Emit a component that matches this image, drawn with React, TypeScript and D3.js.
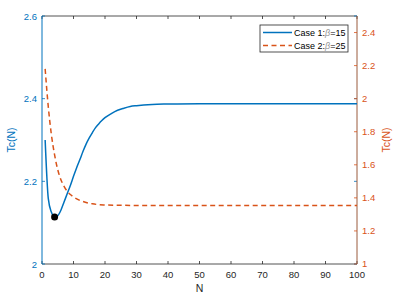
import React from "react";
import * as d3 from "d3";

const case1N = [1, 2, 3, 4, 5, 6, 7, 8, 9, 10, 11, 12, 13, 14, 15, 16, 17, 18, 19, 20, 22, 24, 26, 28, 30, 35, 40, 50, 60, 70, 80, 90, 100];
const case1Tc = [2.3, 2.158, 2.125, 2.114, 2.117, 2.13, 2.15, 2.17, 2.19, 2.212, 2.233, 2.252, 2.272, 2.29, 2.305, 2.318, 2.33, 2.339, 2.347, 2.354, 2.364, 2.372, 2.377, 2.381, 2.383, 2.386, 2.387, 2.388, 2.388, 2.388, 2.388, 2.388, 2.388];
const case2N = [1, 2, 3, 4, 5, 6, 7, 8, 9, 10, 12, 14, 16, 18, 20, 25, 30, 40, 50, 60, 70, 80, 90, 100];
const case2Tc = [2.18, 1.95, 1.78, 1.66, 1.57, 1.51, 1.47, 1.44, 1.42, 1.405, 1.385, 1.372, 1.364, 1.359, 1.357, 1.355, 1.354, 1.354, 1.354, 1.354, 1.354, 1.354, 1.354, 1.354];
const minPoint = { n: 4, tc: 2.114 };
const xTicks = [0, 10, 20, 30, 40, 50, 60, 70, 80, 90, 100];
const leftTicks = [2, 2.2, 2.4, 2.6];
const rightTicks = [1, 1.2, 1.4, 1.6, 1.8, 2, 2.2, 2.4];
const legendLabels = ["Case 1:", "Case 2:"];
const legendBetas = ["15", "25"];

const BLUE = "#0072BD";
const ORANGE = "#D95319";
const GRAY = "#262626";
const FONT = "Liberation Sans, Arial, sans-serif";

export default function App() {
  const W = 401, H = 297;
  const L = 42, R = 357, T = 16, B = 264;
  const x = d3.scaleLinear().domain([0, 100]).range([L, R]);
  const yL = d3.scaleLinear().domain([2, 2.6]).range([B, T]);
  const yR = d3.scaleLinear().domain([1, 2.5]).range([B, T]);

  const line1 = d3.line<number>().x((_, i) => x(case1N[i])).y((d) => yL(d)).curve(d3.curveMonotoneX);
  const line2 = d3.line<number>().x((_, i) => x(case2N[i])).y((d) => yR(d)).curve(d3.curveMonotoneX);
  const tl = 3;

  return (
    <svg width={W} height={H} style={{ position: "absolute", left: 0, top: 0, background: "#fff" }} fontFamily={FONT}>
      <rect x={0} y={0} width={W} height={H} fill="#fff" />
      <defs>
        <clipPath id="plot">
          <rect x={L} y={T} width={R - L} height={B - T} />
        </clipPath>
      </defs>
      {/* x axis bottom/top */}
      <line x1={L} x2={R} y1={B} y2={B} stroke={GRAY} strokeWidth={0.8} />
      <line x1={L} x2={R} y1={T} y2={T} stroke={GRAY} strokeWidth={0.8} />
      {xTicks.map((t) => (
        <g key={"x" + t}>
          <line x1={x(t)} x2={x(t)} y1={B} y2={B - tl} stroke={GRAY} strokeWidth={0.8} />
          <line x1={x(t)} x2={x(t)} y1={T} y2={T + tl} stroke={GRAY} strokeWidth={0.8} />
          <text x={x(t)} y={B + 14} fontSize={9.5} textAnchor="middle" fill={GRAY}>{t}</text>
        </g>
      ))}
      <text x={(L + R) / 2} y={H - 5} fontSize={10.5} textAnchor="middle" fill={GRAY}>N</text>

      {/* left axis */}
      <line x1={L} x2={L} y1={T} y2={B} stroke={BLUE} strokeWidth={1} />
      {leftTicks.map((t) => (
        <g key={"l" + t}>
          <line x1={L} x2={L + tl} y1={yL(t)} y2={yL(t)} stroke={BLUE} strokeWidth={0.8} />
          <line x1={R} x2={R - tl} y1={yL(t)} y2={yL(t)} stroke={BLUE} strokeWidth={0.8} />
          <text x={L - 5} y={yL(t) + 3.5} fontSize={9.5} textAnchor="end" fill={BLUE}>{t}</text>
        </g>
      ))}
      <text transform={`translate(15,${(T + B) / 2}) rotate(-90)`} fontSize={10.5} textAnchor="middle" fill={BLUE}>Tc(N)</text>

      {/* right axis */}
      <line x1={R} x2={R} y1={T} y2={B} stroke="#9a5a3c" strokeWidth={1} />
      {rightTicks.map((t) => (
        <g key={"r" + t}>
          <line x1={R} x2={R - tl} y1={yR(t)} y2={yR(t)} stroke={ORANGE} strokeWidth={0.8} />
          <text x={R + 5} y={yR(t) + 3.2} fontSize={9.5} textAnchor="start" fill={ORANGE}>{t}</text>
        </g>
      ))}
      <text transform={`translate(390,${(T + B) / 2}) rotate(-90)`} fontSize={10.5} textAnchor="middle" fill={ORANGE}>Tc(N)</text>

      {/* series */}
      <g clipPath="url(#plot)">
        <path d={line1(case1Tc) || ""} fill="none" stroke={BLUE} strokeWidth={1.5} />
        <path d={line2(case2Tc) || ""} fill="none" stroke={ORANGE} strokeWidth={1.5} strokeDasharray="5,3.5" />
      </g>
      <circle cx={x(minPoint.n)} cy={yL(minPoint.tc)} r={3.5} fill="#000" />

      {/* legend */}
      <rect x={260} y={25} width={88} height={27} fill="#fff" stroke={GRAY} strokeWidth={0.8} />
      {legendLabels.map((lab, i) => {
        const ly = 32.5 + i * 13;
        return (
          <g key={lab}>
            <line x1={263} x2={292} y1={ly} y2={ly} stroke={i === 0 ? BLUE : ORANGE} strokeWidth={1.5} strokeDasharray={i === 0 ? undefined : "5,3.5"} />
            <text x={294} y={ly + 3.3} fontSize={9} fill="#000">
              {lab}
              <tspan fontStyle="italic" fill="#999">β</tspan>
              {"=" + legendBetas[i]}
            </text>
          </g>
        );
      })}
    </svg>
  );
}
